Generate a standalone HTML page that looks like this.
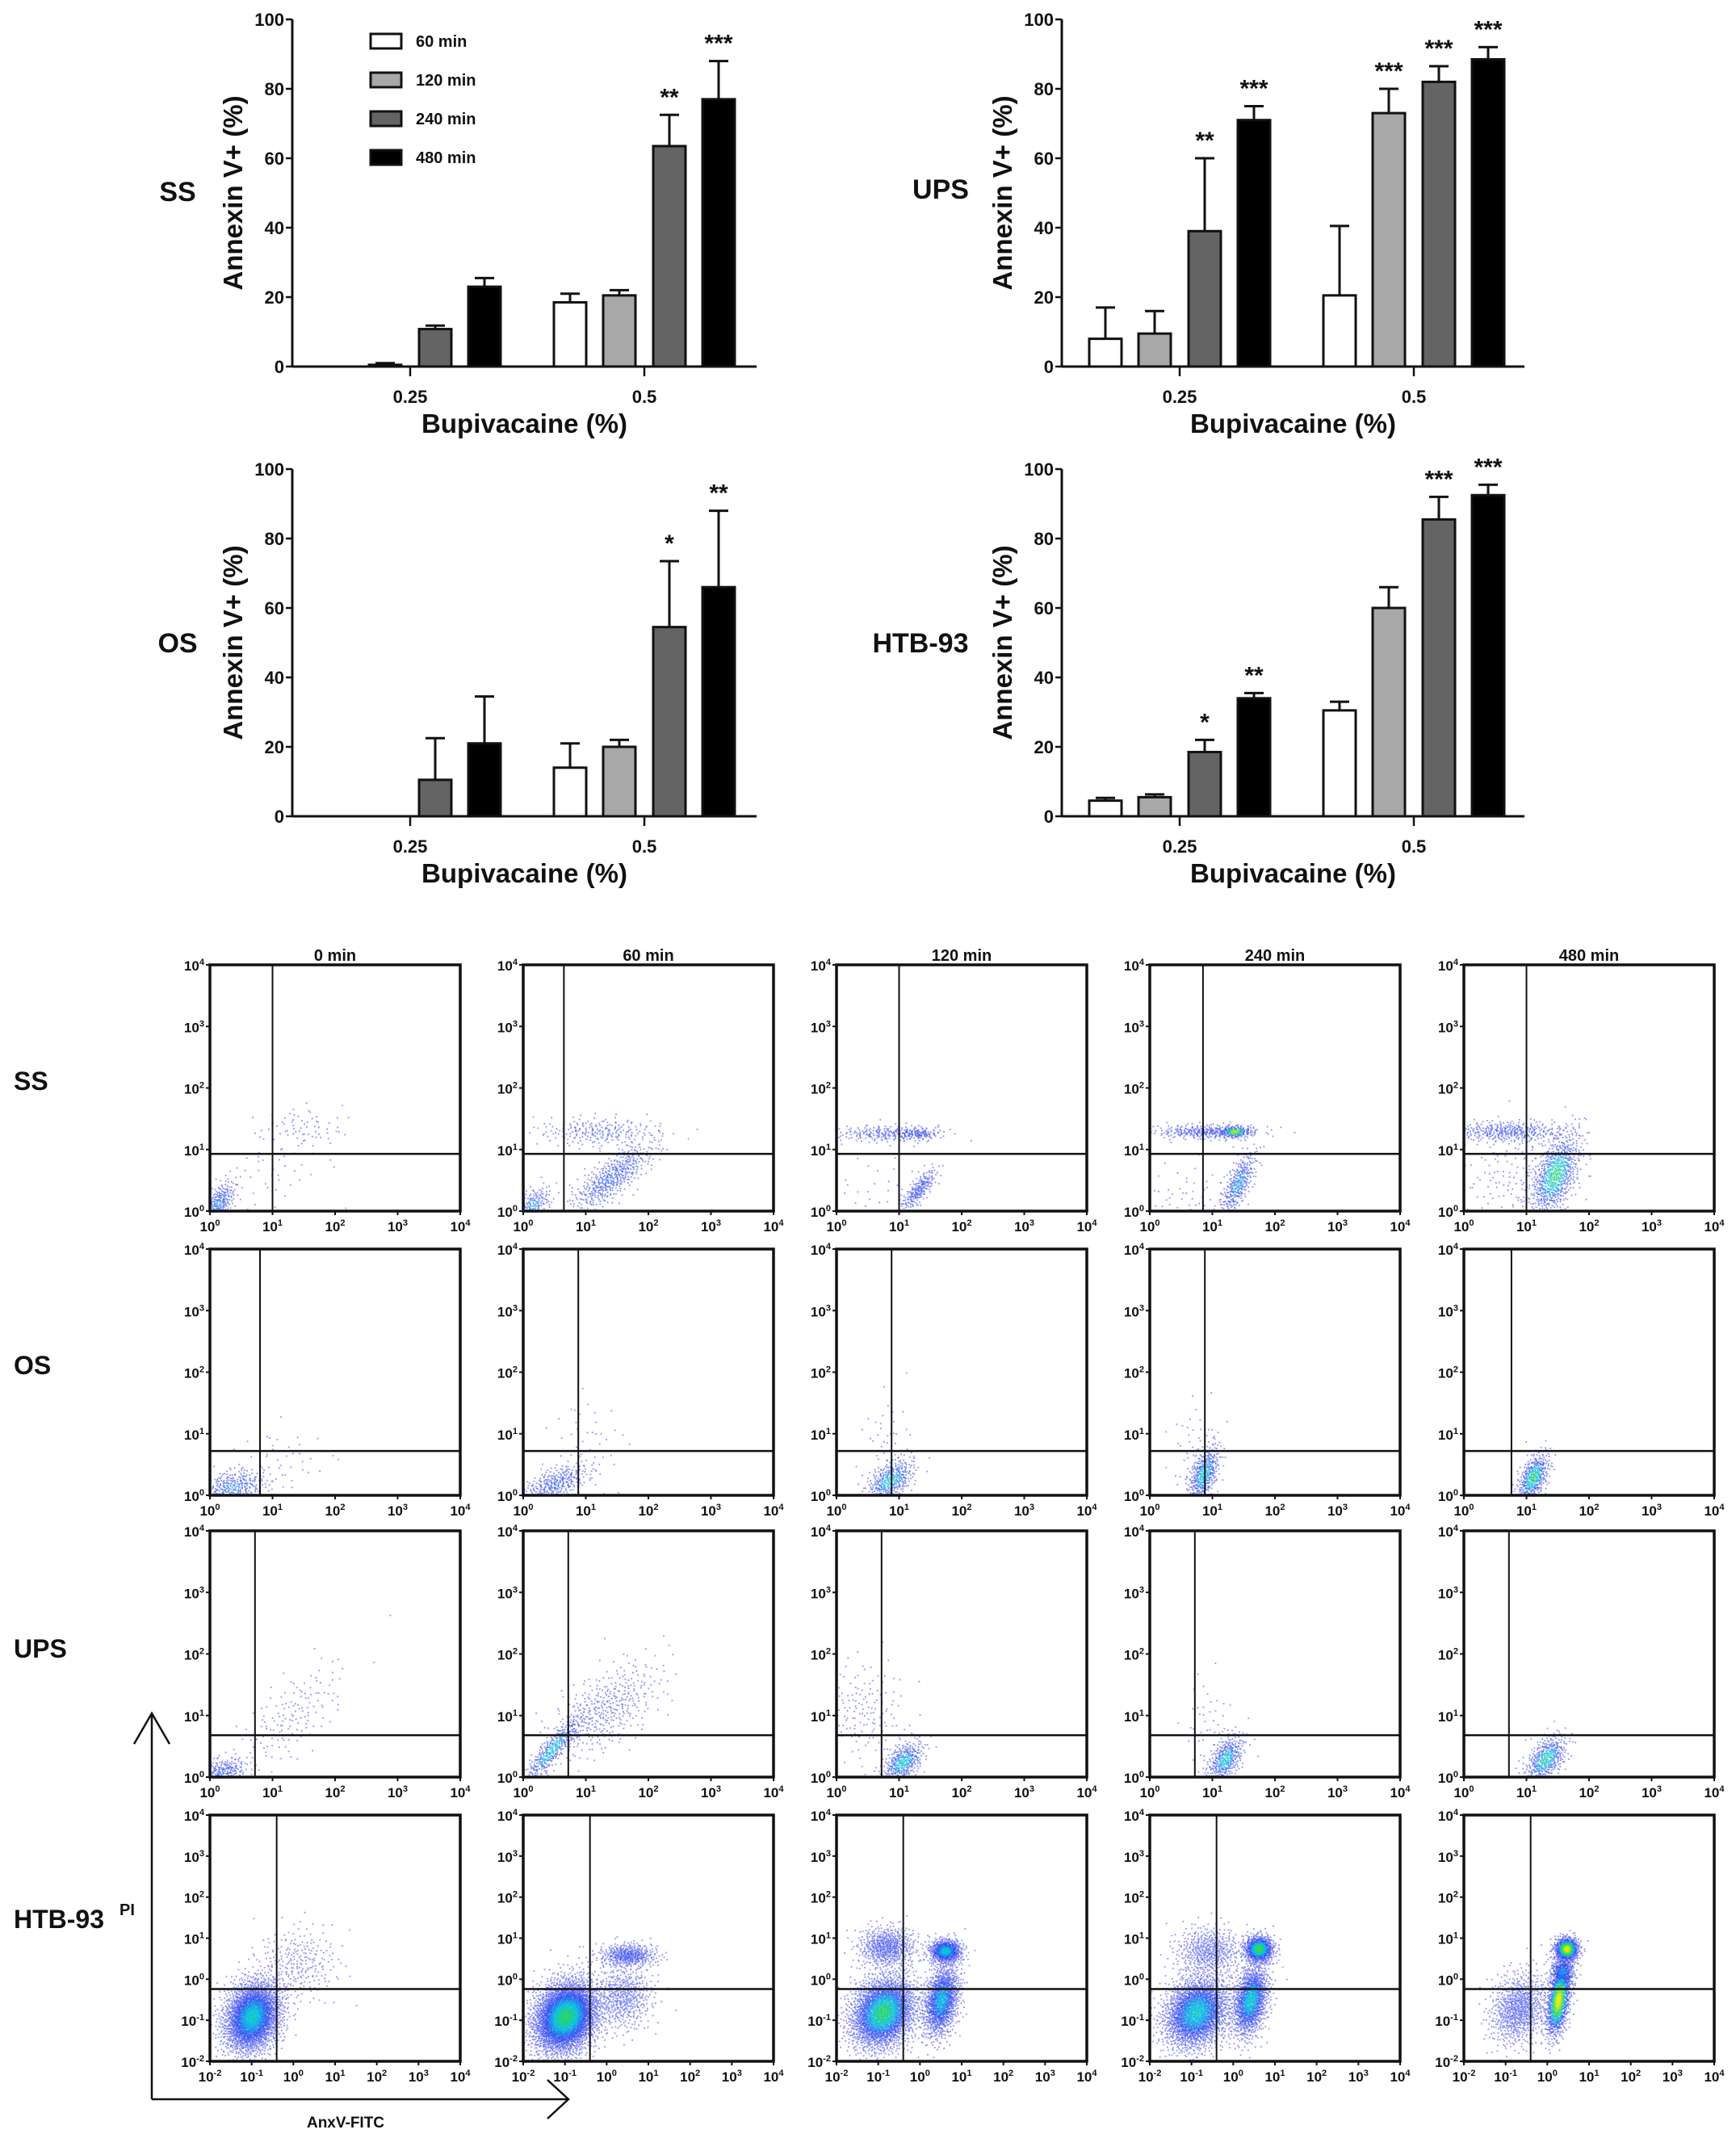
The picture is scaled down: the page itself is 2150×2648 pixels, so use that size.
<!DOCTYPE html>
<html><head><meta charset="utf-8"><style>
html,body{margin:0;padding:0;background:#fff}
svg{display:block}
text{font-family:"Liberation Sans Narrow","Liberation Sans",sans-serif;font-weight:bold;fill:#111}
</style></head><body>
<svg id="fig" width="2150" height="2648" viewBox="0 0 2150 2648" xmlns="http://www.w3.org/2000/svg"></svg>
<script>
// ---------- Bar chart data ----------
const groups = ['0.25','0.5'];
const seriesNames = ['60 min','120 min','240 min','480 min'];
const seriesFills = ['#ffffff','#a8a8a8','#646464','#000000'];
const yTicks = [0,20,40,60,80,100];
const ssMeans = [[0,18.5],[0.5,20.5],[10.8,63.5],[23,77]];
const ssErrs  = [[0,2.5],[0.5,1.5],[1,9],[2.5,11]];
const ssStars = [['',''],['',''],['','**'],['','***']];
const upsMeans = [[8,20.5],[9.5,73],[39,82],[71,88.5]];
const upsErrs  = [[9,20],[6.5,7],[21,4.5],[4,3.5]];
const upsStars = [['',''],['','***'],['**','***'],['***','***']];
const osMeans = [[0,14],[0,20],[10.5,54.5],[21,66]];
const osErrs  = [[0,7],[0,2],[12,19],[13.5,22]];
const osStars = [['',''],['',''],['','*'],['','**']];
const htbMeans = [[4.5,30.5],[5.5,60],[18.5,85.5],[34,92.5]];
const htbErrs  = [[0.8,2.5],[0.8,6],[3.5,6.5],[1.5,3]];
const htbStars = [['',''],['',''],['*','***'],['**','***']];

// ---------- Flow cytometry data ----------
const flowRows = ['SS','OS','UPS','HTB-93'];
const flowCols = ['0 min','60 min','120 min','240 min','480 min'];
const flowRangeLow = [0,0,0,-2];
const flowVGate = [[1.0,0.65,1.0,0.85,1.0],[0.8,0.88,0.88,0.88,0.76],[0.72,0.72,0.72,0.72,0.72],[-0.4,-0.4,-0.4,-0.4,-0.4]];
const flowHGate = [0.93,0.72,0.68,-0.24];
// cluster: [cx, cy, sx, sy, rho, n, peak]
const ssClusters = [
 [[0.12,0.12,0.15,0.2,0.6,250,0.45],[1.45,1.35,0.35,0.18,0,70,0.15],[1.0,0.6,0.45,0.35,0.3,40,0.1]],
 [[0.15,0.12,0.15,0.15,0.5,150,0.5],[1.4,0.55,0.35,0.3,0.8,450,0.4],[1.2,1.3,0.5,0.12,0,220,0.2]],
 [[0.8,1.27,0.45,0.07,0,220,0.25],[1.3,1.27,0.15,0.05,0,80,0.4],[1.3,0.35,0.15,0.18,0.8,200,0.35],[0.5,0.3,0.5,0.4,0,40,0.05]],
 [[0.9,1.3,0.45,0.06,0,300,0.3],[1.35,1.3,0.12,0.05,0,150,0.9],[1.4,0.45,0.15,0.28,0.7,300,0.5],[0.6,0.2,0.4,0.3,0,60,0.05]],
 [[0.7,1.3,0.5,0.09,0,350,0.3],[1.45,0.6,0.2,0.35,0.5,700,0.7],[0.8,0.5,0.5,0.4,0,150,0.1]]];
const osClusters = [
 [[0.35,0.15,0.3,0.15,0.3,300,0.45],[1.2,0.6,0.4,0.3,0,40,0.05]],
 [[0.5,0.2,0.3,0.17,0.6,300,0.4],[1.0,0.9,0.3,0.4,0,40,0.05]],
 [[0.85,0.25,0.2,0.18,0.5,350,0.6],[0.8,0.9,0.2,0.4,0,40,0.05]],
 [[0.85,0.35,0.13,0.25,0.5,400,0.6],[0.7,0.8,0.2,0.4,0,40,0.05]],
 [[1.1,0.3,0.13,0.2,0.5,400,0.7]]];
const upsClusters = [
 [[0.2,0.1,0.2,0.12,0.3,200,0.4],[1.3,1.0,0.45,0.45,0.7,150,0.1]],
 [[0.45,0.45,0.25,0.3,0.9,350,0.6],[1.3,1.1,0.45,0.4,0.6,400,0.2]],
 [[1.05,0.25,0.17,0.18,0.5,350,0.6],[0.4,1.1,0.35,0.4,0,150,0.08]],
 [[1.2,0.3,0.15,0.2,0.5,350,0.6],[0.9,0.9,0.2,0.4,0,40,0.05]],
 [[1.3,0.3,0.17,0.2,0.5,400,0.65]]];
const htbClusters = [
 [[-1.0,-0.9,0.35,0.45,0.2,2500,0.6],[0.1,0.4,0.5,0.45,0,250,0.1]],
 [[-1.0,-0.9,0.4,0.45,0.2,3500,0.7],[0.5,0.6,0.35,0.15,0,400,0.3],[0.4,-0.4,0.35,0.4,0,500,0.15]],
 [[-0.9,-0.8,0.4,0.45,0.2,2500,0.7],[0.5,-0.5,0.22,0.45,0.3,1200,0.55],[0.6,0.7,0.2,0.15,0,600,0.6],[-0.8,0.8,0.35,0.25,0,600,0.2]],
 [[-0.9,-0.8,0.4,0.45,0.2,2200,0.6],[0.4,-0.5,0.22,0.45,0.3,1200,0.6],[0.6,0.75,0.18,0.17,0,700,0.75],[-0.6,0.7,0.4,0.3,0,500,0.15]],
 [[-0.7,-0.7,0.35,0.45,0.2,800,0.2],[0.25,-0.5,0.15,0.45,0.4,1000,0.95],[0.45,0.75,0.15,0.15,0,600,0.95],[0.35,0.2,0.15,0.2,0,300,0.5]]];
const allClusters = [ssClusters, osClusters, upsClusters, htbClusters];

const NS = 'http://www.w3.org/2000/svg';
const svg = document.getElementById('fig');
function mk(tag, attrs, parent, txt){
  const e = document.createElementNS(NS, tag);
  for (const k in attrs) e.setAttribute(k, attrs[k]);
  if (txt !== undefined) e.textContent = txt;
  (parent||svg).appendChild(e);
  return e;
}

// ---------- Bar charts ----------
const barCharts = [
 {key:'ss', label:'SS', means:ssMeans, errs:ssErrs, stars:ssStars, x0:362, xEnd:937, yTop:24, yBot:454, t0:508, t1:798, lx:220, ly:237, legend:true},
 {key:'ups', label:'UPS', means:upsMeans, errs:upsErrs, stars:upsStars, x0:1315, xEnd:1888, yTop:24, yBot:454, t0:1461, t1:1751, lx:1165, ly:234, legend:false},
 {key:'os', label:'OS', means:osMeans, errs:osErrs, stars:osStars, x0:362, xEnd:937, yTop:581, yBot:1011, t0:508, t1:798, lx:220, ly:796, legend:false},
 {key:'htb93', label:'HTB-93', means:htbMeans, errs:htbErrs, stars:htbStars, x0:1315, xEnd:1888, yTop:581, yBot:1011, t0:1461, t1:1751, lx:1140, ly:796, legend:false}
];
barCharts.forEach(c => {
  const g = mk('g', {});
  
  
  const y = v => c.yBot - (v/100)*(c.yBot - c.yTop);
  const gx = gi => gi === 0 ? c.t0 : c.t1;
  const offs = [-92,-31,31,92], bw = 40;
  const pl = mk('text', {x:c.lx, y:c.ly+12, 'font-size':34, 'text-anchor':'middle', 'font-family':'Liberation Sans'}, g, c.label);
   
  const ym = (c.yTop + c.yBot)/2, ytx = c.x0 - 62;
  const yt = mk('text', {x:ytx, y:ym, 'font-size':33, 'text-anchor':'middle', transform:`rotate(-90 ${ytx} ${ym})`, 'font-family':'Liberation Sans'}, g, 'Annexin V+ (%)');
   
  mk('line', {x1:c.x0, y1:c.yTop, x2:c.x0, y2:c.yBot, stroke:'#111', 'stroke-width':3}, g);
  yTicks.forEach(t => {
    mk('line', {x1:c.x0-8, y1:y(t), x2:c.x0, y2:y(t), stroke:'#111', 'stroke-width':2.5}, g);
    const tl = mk('text', {x:c.x0-10, y:y(t)+8, 'font-size':22, 'text-anchor':'end'}, g, String(t));
     
  });
  mk('line', {x1:c.x0, y1:c.yBot, x2:c.xEnd, y2:c.yBot, stroke:'#111', 'stroke-width':3}, g);
  groups.forEach((gname, gi) => {
    mk('line', {x1:gx(gi), y1:c.yBot, x2:gx(gi), y2:c.yBot+12, stroke:'#111', 'stroke-width':2.5}, g);
    const xl = mk('text', {x:gx(gi), y:c.yBot+45, 'font-size':22, 'text-anchor':'middle'}, g, gname);
     
  });
  const xt = mk('text', {x:(c.x0+c.xEnd)/2, y:c.yBot+82, 'font-size':33, 'text-anchor':'middle', 'font-family':'Liberation Sans'}, g, 'Bupivacaine (%)');
   
  c.means.forEach((vals, si) => {
    vals.forEach((v, gi) => {
      const cx = gx(gi) + offs[si];
      if (v > 0) {
        const r = mk('rect', {x:cx-bw/2, y:y(v), width:bw, height:c.yBot - y(v), fill:seriesFills[si], stroke:'#111', 'stroke-width':3}, g);
        
        
        const e = c.errs[si][gi];
        if (e > 0) {
          mk('line', {x1:cx, y1:y(v), x2:cx, y2:y(v+e), stroke:'#111', 'stroke-width':3}, g);
          mk('line', {x1:cx-12, y1:y(v+e), x2:cx+12, y2:y(v+e), stroke:'#111', 'stroke-width':3}, g);
        }
      }
      const s = c.stars[si][gi];
      if (s) {
        const st = mk('text', {x:cx, y:y(v + c.errs[si][gi]) - 12, 'font-size':30, 'text-anchor':'middle', 'font-family':'Liberation Sans'}, g, s);
         
      }
    });
  });
  if (c.legend) {
    seriesNames.forEach((n, si) => {
      const ly = 51 + si*48;
      const lg = mk('g', {}, g);
      
      
      mk('rect', {x:459, y:ly-9, width:38, height:18, fill:seriesFills[si], stroke:'#111', 'stroke-width':3}, lg);
      mk('text', {x:515, y:ly+7, 'font-size':20}, lg, n);
    });
  }
});

// ---------- Flow plots ----------
const colLeft = [260, 648, 1036, 1424, 1813];
const rowTop = [1195, 1547, 1896, 2248];
const boxW = 310, boxH = 305;
function halton(i, b){ let f=1, r=0; while(i>0){ f/=b; r+=f*(i%b); i=Math.floor(i/b);} return r; }
const cmapStops = [[0,[90,90,235]],[0.3,[30,60,240]],[0.48,[0,190,225]],[0.62,[40,215,80]],[0.8,[235,235,0]],[1,[225,40,0]]];
function cmap(t){
  t = Math.max(0, Math.min(1, t));
  for (let i=1;i<cmapStops.length;i++){
    if (t <= cmapStops[i][0]) {
      const a=cmapStops[i-1], b=cmapStops[i], f=(t-a[0])/(b[0]-a[0]);
      return `rgb(${a[1].map((v,k)=>Math.round(v+(b[1][k]-v)*f)).join(',')})`;
    }
  }
  return 'rgb(225,40,0)';
}
function sup(parent, x, y, exp, anchor, size){
  const t = mk('text', {x:x, y:y, 'font-size':size, 'text-anchor':anchor}, parent);
  const a = document.createElementNS(NS,'tspan'); a.textContent='10'; t.appendChild(a);
  const b = document.createElementNS(NS,'tspan'); b.setAttribute('dy', -7); b.setAttribute('font-size', size*0.65); b.textContent=String(exp); t.appendChild(b);
  return t;
}
flowCols.forEach((cn, ci) => {
  const ct = mk('text', {x:colLeft[ci]+boxW/2, y:1190, 'font-size':20, 'text-anchor':'middle'}, svg, cn);
  
  
});
const rowLabelY = [1350, 1702, 2053, 2388];
flowRows.forEach((rn, ri) => {
  const rl = mk('text', {x:17, y:rowLabelY[ri], 'font-size':32, 'font-family':'Liberation Sans'}, svg, rn);
  
  
});
flowRows.forEach((rn, ri) => {
  const lo = flowRangeLow[ri], hi = 4, span = hi - lo;
  flowCols.forEach((cn, ci) => {
    const L = colLeft[ci], T = rowTop[ri];
    const g = mk('g', {});
    
    
    const sx = v => L + (v - lo)/span*boxW;
    const sy = v => T + boxH - (v - lo)/span*boxH;
    const pts = [];
    allClusters[ri][ci].forEach((cl, k) => {
      const [cx, cy, sdx, sdy, rho, n, peak] = cl;
      const off = 1 + k*7919 + ci*1301 + ri*577;
      for (let i=0;i<n;i++){
        const u1 = Math.max(1e-4, halton(i+off,2)), u2 = halton(i+off,3);
        const R = Math.sqrt(-2*Math.log(u1));
        const z1 = R*Math.cos(2*Math.PI*u2), z2 = R*Math.sin(2*Math.PI*u2);
        const x = cx + sdx*z1, y = cy + sdy*(rho*z1 + Math.sqrt(1-rho*rho)*z2);
        if (x < lo || x > hi || y < lo || y > hi) continue;
        const t = 0.85*peak*Math.exp(-(z1*z1+z2*z2)/2);
        pts.push([sx(x), sy(y), t]);
      }
    });
    pts.sort((a,b)=>a[2]-b[2]);
    const path = {}, order = [];
    pts.forEach(p => {
      const col = cmap(p[2]);
      if (!path[col]) { path[col] = []; order.push(col); }
      path[col].push(`M${p[0].toFixed(1)} ${p[1].toFixed(1)}h1.9v1.9h-1.9z`);
    });
    order.forEach(c => mk('path', {d:path[c].join(''), fill:c, opacity:0.6}, g));
    mk('rect', {x:L, y:T, width:boxW, height:boxH, fill:'none', stroke:'#111', 'stroke-width':3.5}, g);
    const vg = mk('line', {x1:sx(flowVGate[ri][ci]), y1:T, x2:sx(flowVGate[ri][ci]), y2:T+boxH, stroke:'#111', 'stroke-width':2}, g);
     
    const hg = mk('line', {x1:L, y1:sy(flowHGate[ri]), x2:L+boxW, y2:sy(flowHGate[ri]), stroke:'#111', 'stroke-width':2.5}, g);
     
    for (let e = lo; e <= hi; e++){
      mk('line', {x1:L-5, y1:sy(e), x2:L, y2:sy(e), stroke:'#111', 'stroke-width':2}, g);
      mk('line', {x1:sx(e), y1:T+boxH, x2:sx(e), y2:T+boxH+5, stroke:'#111', 'stroke-width':2}, g);
      const yl = sup(g, L-7, sy(e)+7, e, 'end', 17);
       
      const xl = sup(g, sx(e), T+boxH+25, e, 'middle', 17);
       
    }
  });
});
const arrows = mk('g', {fill:'none', stroke:'#111', 'stroke-width':2.5});


mk('path', {d:'M188 2600 V2122 M166 2160 L188 2122 L210 2160'}, arrows);
mk('path', {d:'M188 2600 H704 M678 2576 L704 2600 L678 2624'}, arrows);
const pi = mk('text', {x:148, y:2372, 'font-size':20}, svg, 'PI');
 
const ax = mk('text', {x:428, y:2635, 'font-size':19, 'text-anchor':'middle'}, svg, 'AnxV-FITC');
 
</script>
</body></html>
